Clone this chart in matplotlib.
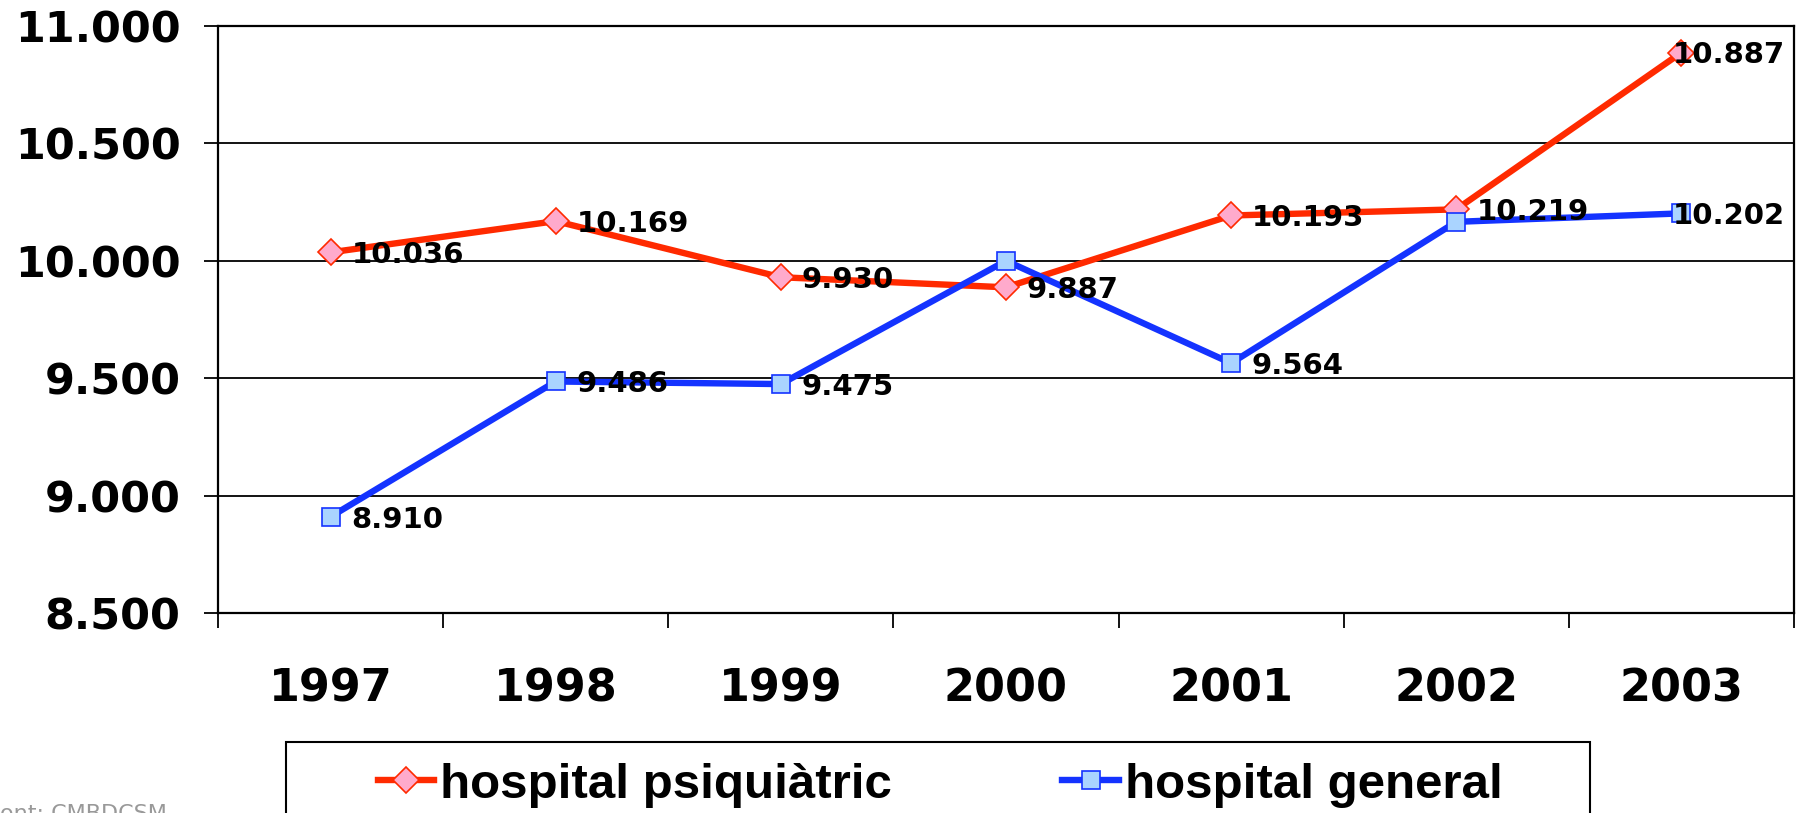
import matplotlib
matplotlib.use("Agg")
import matplotlib.pyplot as plt
from matplotlib.patches import Rectangle
from matplotlib.ticker import FuncFormatter

# Data
years = ["1997", "1998", "1999", "2000", "2001", "2002", "2003"]
psiquiatric = [10036, 10169, 9930, 9887, 10193, 10219, 10887]
general = [8910, 9486, 9475, 10000, 9564, 10166, 10202]
show_psiq_label = [True, True, True, True, True, True, True]
show_gen_label = [True, True, True, False, True, False, True]
y_ticks = [8500, 9000, 9500, 10000, 10500, 11000]

RED = "#ff2a00"
PINK = "#ffaacc"
BLUE = "#1433ff"
LIGHTBLUE = "#aad4ff"


def thousands(v, pos=None):
    return f"{int(round(v)):,}".replace(",", ".")


W, H, DPI = 1796, 813, 100
fig = plt.figure(figsize=(W / DPI, H / DPI), dpi=DPI)
ax = fig.add_axes([218 / W, 1 - 613 / H, (1794 - 218) / W, (613 - 26) / H])

x = list(range(len(years)))
ax.plot(x, psiquiatric, color=RED, lw=4.6, marker="D", ms=13,
        mfc=PINK, mec=RED, mew=1.2, zorder=3, label="hospital psiquiàtric")
ax.plot(x, general, color=BLUE, lw=4.6, marker="s", ms=13,
        mfc=LIGHTBLUE, mec=BLUE, mew=1.2, zorder=4, label="hospital general")

# data labels
for series, show in [(psiquiatric, show_psiq_label), (general, show_gen_label)]:
    for i, v in enumerate(series):
        if not show[i]:
            continue
        dx = -6.5 if i == len(years) - 1 else 15
        ax.annotate(thousands(v), (i, v), xytext=(dx, -2), textcoords="offset points",
                    ha="left", va="center", fontsize=21, fontweight="bold",
                    family="DejaVu Sans", zorder=6)

ax.set_xlim(-0.5, len(years) - 0.5)
ax.set_ylim(y_ticks[0], y_ticks[-1])
ax.set_yticks(y_ticks)
ax.yaxis.set_major_formatter(FuncFormatter(thousands))
ax.grid(axis="y", color="black", lw=1.3)
ax.set_axisbelow(True)

# category boundaries as major ticks, labels on minor ticks at centres
ax.set_xticks([i - 0.5 for i in range(len(years) + 1)])
ax.set_xticklabels([])
ax.set_xticks(x, minor=True)
ax.set_xticklabels(years, minor=True)
ax.tick_params(axis="x", which="major", direction="out", length=11, width=1.3)
ax.tick_params(axis="x", which="minor", length=0, pad=39, labelsize=32)
ax.tick_params(axis="y", direction="out", length=10, width=1.3, pad=17, labelsize=31)
for lab in ax.get_xticklabels(minor=True) + ax.get_yticklabels():
    lab.set_fontweight("bold")

for s in ax.spines.values():
    s.set_linewidth(1.6)

# legend box (runs off the bottom of the figure, as in the reference)
fig.patches.append(Rectangle((286 / W, -0.1), (1590 - 286) / W, 0.1 + (813 - 742) / H,
                             transform=fig.transFigure, fill=False, ec="black", lw=1.5))
fig.legend(loc="center left", bbox_to_anchor=(353 / W, 1 - 785 / H), ncol=2,
           frameon=False, borderpad=0, handlelength=1.15, handletextpad=0.12,
           columnspacing=3.45, prop={"family": "Liberation Sans", "weight": "bold", "size": 35.5})

fig.text(167 / W, 1 - 804 / H, "Font: CMBDCSM", ha="right", va="top",
         fontsize=16, color="#999999")

fig.savefig("out.png", dpi=DPI)
